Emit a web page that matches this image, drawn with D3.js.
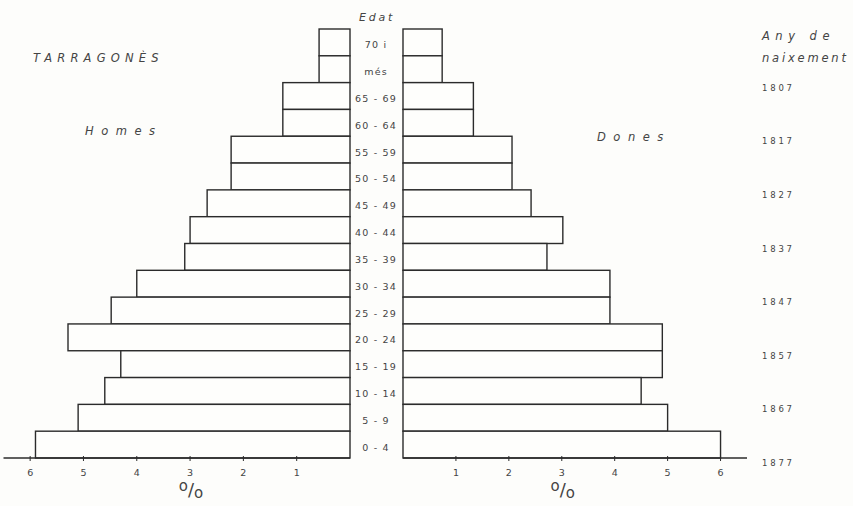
<!DOCTYPE html>
<html>
<head>
<meta charset="utf-8">
<script src="https://cdn.jsdelivr.net/npm/d3@7"></script>
<style>
  body { margin: 0; background: #fdfdfb; }
  text { font-family: "DejaVu Sans", sans-serif; fill: #444; }
</style>
</head>
<body>
<div id="container"></div>
<script>
// Grups d'edat (de dalt a baix)
const ageLabels = ["70 i", "més", "65 - 69", "60 - 64", "55 - 59", "50 - 54", "45 - 49", "40 - 44",
                   "35 - 39", "30 - 34", "25 - 29", "20 - 24", "15 - 19", "10 - 14", "5 - 9", "0 - 4"];
// Percentatges
const homes = [0.58, 0.58, 1.26, 1.26, 2.23, 2.23, 2.68, 3.0, 3.1, 4.0, 4.48, 5.29, 4.3, 4.6, 5.1, 5.9];
const dones = [0.74, 0.74, 1.33, 1.33, 2.06, 2.06, 2.42, 3.02, 2.72, 3.91, 3.91, 4.9, 4.9, 4.5, 5.0, 6.0];
// Any de naixement, a sota de la fila indicada
const birthYears = [1807, 1817, 1827, 1837, 1847, 1857, 1867, 1877];
const birthRows = ["més", "60 - 64", "50 - 54", "40 - 44", "30 - 34", "20 - 24", "10 - 14", "0 - 4"];
const tickValues = [1, 2, 3, 4, 5, 6];

const width = 853, height = 506;
const chartTop = 29, base = 458;

const svg = d3.select("#container").append("svg")
    .attr("width", width)
    .attr("height", height);

const y = d3.scaleBand()
    .domain(ageLabels)
    .range([chartTop, base]);

const xLeft = d3.scaleLinear().domain([0, 6.5]).range([350, 3.5]);
const xRight = d3.scaleLinear().domain([0, 6.5]).range([403, 747]);

const lineColor = "#2b2b2b";

// Barres homes
svg.append("g").selectAll("rect")
    .data(homes)
    .enter()
    .append("rect")
    .attr("x", d => xLeft(d))
    .attr("y", (d, i) => y(ageLabels[i]))
    .attr("width", d => xLeft(0) - xLeft(d))
    .attr("height", y.bandwidth())
    .attr("fill", "#fefefc")
    .attr("stroke", lineColor)
    .attr("stroke-width", 1.4);

// Barres dones
svg.append("g").selectAll("rect")
    .data(dones)
    .enter()
    .append("rect")
    .attr("x", xRight(0))
    .attr("y", (d, i) => y(ageLabels[i]))
    .attr("width", d => xRight(d) - xRight(0))
    .attr("height", y.bandwidth())
    .attr("fill", "#fefefc")
    .attr("stroke", lineColor)
    .attr("stroke-width", 1.4);

// Eixos
function drawAxis(scale) {
    const g = svg.append("g");
    g.append("line")
        .attr("x1", scale(0)).attr("x2", scale(6.5))
        .attr("y1", base).attr("y2", base)
        .attr("stroke", lineColor).attr("stroke-width", 1.4);
    g.selectAll("line.tick")
        .data(tickValues)
        .enter()
        .append("line")
        .attr("class", "tick")
        .attr("x1", d => scale(d)).attr("x2", d => scale(d))
        .attr("y1", base - 2).attr("y2", base + 3)
        .attr("stroke", lineColor).attr("stroke-width", 1);
    g.selectAll("text")
        .data(tickValues)
        .enter()
        .append("text")
        .attr("x", d => scale(d))
        .attr("y", base + 18)
        .attr("text-anchor", "middle")
        .attr("font-size", 9.5)
        .text(d => d);
    const pct = g.append("text")
        .attr("x", scale(3) + 1)
        .attr("y", base + 38)
        .attr("text-anchor", "middle")
        .attr("font-size", 18);
    pct.append("tspan").attr("font-size", 15).attr("dy", -5).text("o");
    pct.append("tspan").attr("dy", 5).text("/");
    pct.append("tspan").attr("font-size", 15).attr("dy", 2).text("o");
}
drawAxis(xLeft);
drawAxis(xRight);

// Etiquetes d'edat
svg.append("g").selectAll("text")
    .data(ageLabels)
    .enter()
    .append("text")
    .attr("x", 376)
    .attr("y", d => y(d) + y.bandwidth() / 2 + 6)
    .attr("text-anchor", "middle")
    .attr("font-size", 9.5)
    .attr("letter-spacing", 1.2)
    .text(d => d);

svg.append("text")
    .attr("x", 377).attr("y", 21)
    .attr("text-anchor", "middle")
    .attr("font-size", 11)
    .attr("font-style", "italic")
    .attr("letter-spacing", 2.8)
    .text("Edat");

// Anys de naixement
svg.append("g").selectAll("text")
    .data(birthYears)
    .enter()
    .append("text")
    .attr("x", 762)
    .attr("y", (d, i) => y(birthRows[i]) + y.bandwidth() + 8)
    .attr("font-size", 8.5)
    .attr("letter-spacing", 2.8)
    .text(d => d);

const titles = [
    { t: "TARRAGONÈS", x: 33, y: 62, ls: 5.2 },
    { t: "Homes", x: 85, y: 135, ls: 7.5 },
    { t: "Dones", x: 597, y: 141, ls: 7.5 },
    { t: "Any de", x: 762, y: 40, ls: 5.5 },
    { t: "naixement", x: 762, y: 62, ls: 2.8 }
];
svg.append("g").selectAll("text")
    .data(titles)
    .enter()
    .append("text")
    .attr("x", d => d.x)
    .attr("y", d => d.y)
    .attr("font-size", 11.5)
    .attr("font-style", "italic")
    .attr("letter-spacing", d => d.ls)
    .text(d => d.t);
</script>
</body>
</html>
